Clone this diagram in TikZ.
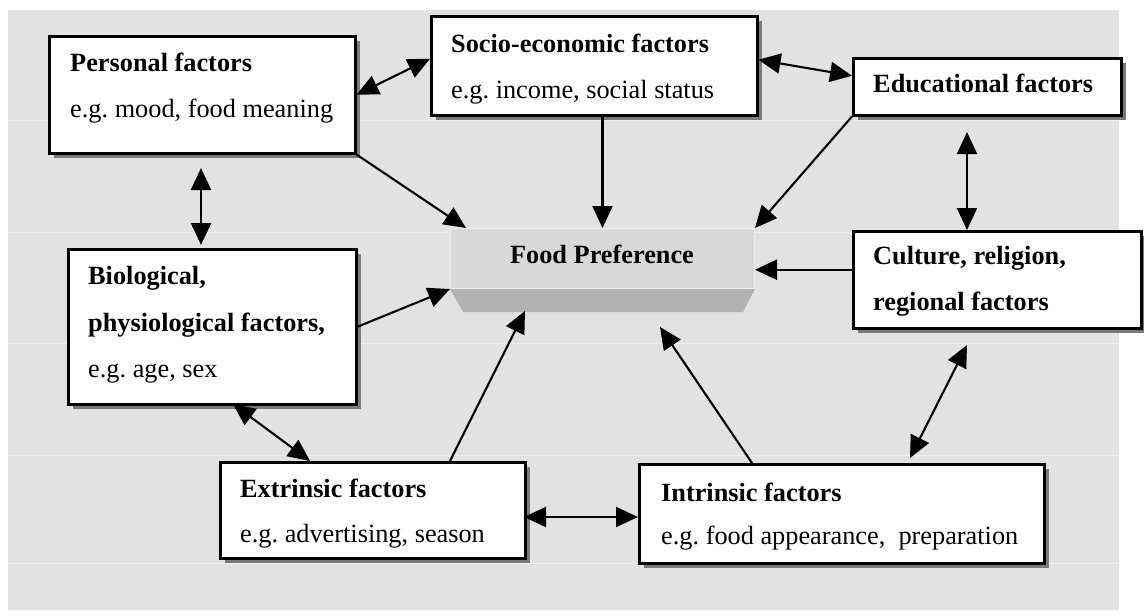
\documentclass[tikz,border=0pt]{standalone}
\usepackage{fontspec}
\setmainfont{Liberation Serif}
\frenchspacing
\usetikzlibrary{arrows.meta,calc,shadows}
\definecolor{panel}{HTML}{E2E2E2}
\definecolor{gridline}{HTML}{EEEEEE}
\definecolor{face}{HTML}{D8D8D8}
\definecolor{faceedge}{HTML}{EDEDED}
\definecolor{bevel}{HTML}{B2B2B2}
\definecolor{shade}{HTML}{7A7A7A}

\begin{document}
\begin{tikzpicture}[x=1pt,y=-1pt,
  factorbox/.style={draw=black, line width=2.5pt, fill=white, anchor=north west,
    inner sep=0pt, drop shadow={shadow xshift=5pt, shadow yshift=-5pt, fill=shade, opacity=1}},
  plain/.style={anchor=base west, inner sep=0pt, font=\fontsize{26.3}{30}\selectfont},
  heading/.style={anchor=base west, inner sep=0pt, font=\fontsize{26.3}{30}\selectfont\bfseries},
  link/.style={line width=2.1pt, -{Triangle[length=22pt,width=20pt]}},
  both/.style={line width=2.1pt, {Triangle[length=22pt,width=20pt]}-{Triangle[length=22pt,width=20pt]}},
]
\useasboundingbox (0,0) rectangle (1144,616);

% background panel with faint horizontal rules
\fill[panel] (8,10) rectangle (1119,610);
\foreach \yy in {120,232,343,455,563}
  \draw[gridline, line width=1pt] (8,\yy) -- (1119,\yy);

% central block with bevelled lower edge
\node[fill=face, draw=faceedge, line width=1pt, anchor=north west, inner sep=0pt,
  minimum width=304pt, minimum height=60pt] (food) at (450,228) {};
\fill[bevel] (food.south west) -- (food.south east) -- (743,312) -- (463,312) -- cycle;
\node[anchor=base, inner sep=0pt, font=\fontsize{26.3}{30}\selectfont\bfseries]
  (foodtext) at (602,263) {Food Preference};

% factor boxes
\node[factorbox, minimum width=306pt, minimum height=117pt] (personal) at (48,35) {};
\node[heading] (personalA) at (70,71) {Personal factors};
\node[plain] (personalB) at (70,117) {e.g. mood, food meaning};

\node[factorbox, minimum width=326pt, minimum height=99pt] (socio) at (430,15) {};
\node[heading] (socioA) at (451,52) {Socio-economic factors};
\node[plain] (socioB) at (451,98) {e.g. income, social status};

\node[factorbox, minimum width=268pt, minimum height=57pt] (educ) at (852,57) {};
\node[heading] (educA) at (873,92) {Educational factors};

\node[factorbox, minimum width=288pt, minimum height=97pt] (culture) at (852,230) {};
\node[heading] (cultureA) at (873,264) {Culture, religion,};
\node[heading] (cultureB) at (873,310) {regional factors};

\node[factorbox, minimum width=288pt, minimum height=155pt] (bio) at (67,248) {};
\node[heading] (bioA) at (88,284) {Biological,};
\node[heading] (bioB) at (88,331) {physiological factors,};
\node[plain] (bioC) at (88,377) {e.g. age, sex};

\node[factorbox, minimum width=305pt, minimum height=96pt] (extr) at (219,461) {};
\node[heading] (extrA) at (240,497) {Extrinsic factors};
\node[plain] (extrB) at (240,542) {e.g. advertising, season};

\node[factorbox, minimum width=405pt, minimum height=99pt] (intr) at (638,463) {};
\node[heading] (intrA) at (661,501) {Intrinsic factors};
\node[plain] (intrB) at (661,544) {e.g. food appearance,\ \ preparation};

% free connector ends
\coordinate (ec1) at (967,132);
\coordinate (ec2) at (ec1 |- culture.north);
\coordinate (cw) at ([yshift=10pt]culture.west);
\coordinate (pb1) at (201,168);
\coordinate (pb2) at (201,245);
\coordinate (be1) at (233,404);
\coordinate (be2) at (310,461);
\coordinate (ef1) at (450,461);
\coordinate (ef2) at (525,311);
\coordinate (if1) at (752,463);
\coordinate (if2) at (660,327);
\coordinate (ei1) at (524,517);
\coordinate (ei2) at (638,517);
\coordinate (ci1) at (967,345);
\coordinate (ci2) at (910,458);

% connectors
\draw[both] (personal.east) -- ([yshift=7pt]socio.west);
\draw[both] ([yshift=6pt]socio.east) -- ([yshift=11pt]educ.west);
\draw[link] (food.north |- socio.south) -- (food.north);
\draw[link] (personal.south east) -- ([xshift=16pt]food.north west);
\draw[link] (educ.south west) -- (food.north east);
\draw[both] (ec1) -- (ec2);
\draw[link] (cw) -- (cw -| food.east);
\draw[both] (pb1) -- (pb2);
\draw[link] (bio.east) -- (food.south west);
\draw[both] (be1) -- (be2);
\draw[link] (ef1) -- (ef2);
\draw[link] (if1) -- (if2);
\draw[both] (ei1) -- (ei2);
\draw[both] (ci1) -- (ci2);
\end{tikzpicture}
\end{document}
